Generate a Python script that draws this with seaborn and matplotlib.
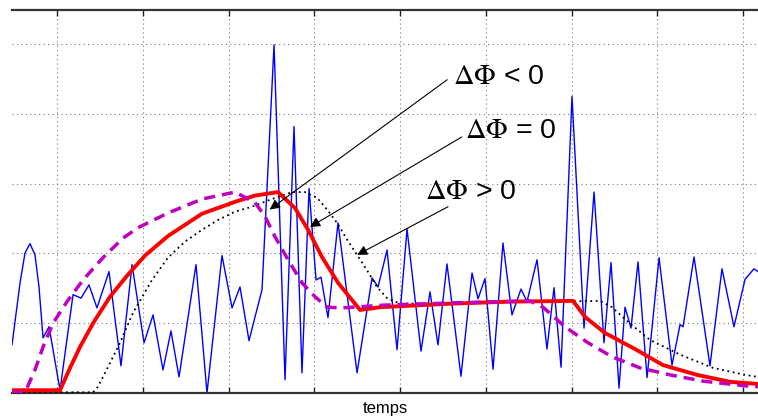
import numpy as np
import pandas as pd
import matplotlib
matplotlib.use("Agg")
import matplotlib.pyplot as plt
import seaborn as sns


signal_t = [4.75, 5.69, 6.27, 6.85, 7.43, 7.90, 8.37, 9.07, 10.35, 11.87,
            12.80, 13.73, 14.66, 16.06, 17.46, 18.75, 20.15, 21.20, 22.36, 23.29,
            24.23, 26.21, 27.49, 29.24, 30.41, 31.34, 32.39, 33.09, 33.91, 35.31,
            36.59, 37.64, 38.57, 39.39, 40.21, 40.79, 41.60, 42.77, 44.99, 46.74,
            47.44, 48.49, 49.65, 50.82, 52.45, 53.50, 54.43, 55.48, 57.11, 58.40,
            59.10, 59.91, 60.85, 62.01, 63.06, 64.11, 64.81, 65.98, 67.14, 67.96,
            68.78, 70.06, 71.46, 72.63, 73.79, 74.61, 75.54, 76.24, 76.94, 77.76,
            78.81, 80.21, 81.72, 82.66, 83.01, 84.29, 86.15, 87.55, 88.95, 90.24,
            91.28, 91.75]
signal_v = [0.69, 1.58, 2.01, 2.14, 1.98, 1.52, 0.79, 0.95, 0.04, 1.41,
            1.36, 1.55, 1.22, 1.74, 0.39, 1.84, 0.72, 1.12, 0.33, 0.89,
            0.23, 1.84, 0.00, 1.97, 1.22, 1.52, 0.75, 1.09, 1.48, 4.99,
            0.19, 3.82, 0.29, 2.93, 1.62, 1.66, 1.08, 2.44, 0.29, 1.65,
            1.52, 2.05, 0.62, 2.35, 0.60, 1.45, 0.69, 1.85, 0.24, 1.72,
            1.35, 1.64, 0.34, 2.15, 1.12, 1.49, 1.31, 1.91, 0.63, 1.51,
            0.37, 4.25, 0.93, 2.88, 0.72, 1.87, 0.07, 1.23, 0.93, 1.88,
            0.22, 1.94, 0.40, 0.98, 0.95, 1.95, 0.39, 1.78, 0.95, 1.63,
            1.78, 1.74]

# reference response (red, dphi = 0)
ref_t = [4.75, 10.35, 11.52, 12.68, 14.20, 16.18, 18.16, 20.26, 22.94, 26.91,
         30.76, 33.09, 35.77, 37.76, 39.27, 40.90, 42.77, 45.34, 47.67, 55.83,
         62.83, 70.18, 71.58, 73.91, 77.41, 80.67, 84.64, 88.49, 91.75]
ref_v = [0.04, 0.04, 0.36, 0.66, 1.00, 1.38, 1.68, 1.97, 2.25, 2.57,
         2.74, 2.83, 2.88, 2.65, 2.34, 1.95, 1.58, 1.19, 1.23, 1.28,
         1.31, 1.32, 1.09, 0.86, 0.63, 0.40, 0.26, 0.16, 0.13]

# leading response (magenta dashed, dphi < 0)
lead_t = [4.75, 6.27, 7.43, 8.37, 9.53, 11.17, 13.03, 15.36, 17.70, 19.45,
          22.94, 26.91, 30.76, 33.09, 34.26, 35.42, 36.94, 38.57, 40.09, 41.49,
          43.24, 48.25, 55.83, 65.16, 66.68, 69.24, 71.92, 74.72, 77.99, 81.49,
          85.34, 90.47, 91.75]
lead_v = [0.01, 0.01, 0.33, 0.66, 1.00, 1.31, 1.62, 1.94, 2.22, 2.37,
          2.58, 2.78, 2.88, 2.73, 2.53, 2.24, 1.91, 1.58, 1.38, 1.23,
          1.22, 1.26, 1.29, 1.32, 1.23, 0.95, 0.72, 0.52, 0.36, 0.26,
          0.17, 0.10, 0.09]

# lagging response (black dotted, dphi > 0)
lag_t = [4.75, 14.20, 14.78, 16.18, 17.35, 18.86, 21.08, 22.94, 24.93, 26.91,
         28.78, 30.76, 32.74, 34.84, 37.41, 38.92, 40.32, 41.49, 42.65, 43.82,
         44.99, 46.15, 47.32, 48.49, 50.00, 55.83, 73.33, 74.72, 76.59, 79.16,
         82.66, 86.50, 90.24, 91.75]
lag_v = [0.01, 0.01, 0.09, 0.43, 0.72, 1.15, 1.62, 1.94, 2.17, 2.34,
         2.48, 2.60, 2.67, 2.77, 2.88, 2.88, 2.80, 2.63, 2.44, 2.20,
         1.98, 1.76, 1.52, 1.36, 1.28, 1.29, 1.32, 1.23, 1.02, 0.76,
         0.55, 0.36, 0.26, 0.23]

labels = [r"$\Delta\Phi$ < 0", r"$\Delta\Phi$ = 0", r"$\Delta\Phi$ > 0"]
label_pos = [(56.2, 4.53), (57.6, 3.75), (52.9, 2.88)]
arrow_tail = [(55.5, 4.49), (57.2, 3.67), (55.6, 2.67)]
arrow_tip = [(34.8, 2.63), (39.5, 2.38), (45.0, 1.98)]


sns.set_style("white")
plt.rcParams["font.family"] = ["Liberation Sans", "DejaVu Sans"]
plt.rcParams["mathtext.fontset"] = "stix"

fig = plt.figure(figsize=(7.58, 4.2), dpi=100)
ax = fig.add_axes([12 / 758, 27 / 420, 746 / 758, 383 / 420])

sns.lineplot(x=signal_t, y=signal_v, ax=ax, color="#0000ff", lw=1.0,
             estimator=None, sort=False, zorder=2)
sns.lineplot(x=lag_t, y=lag_v, ax=ax, color="black", lw=1.3,
             linestyle=(0, (1, 2)), estimator=None, sort=False, zorder=3)
sns.lineplot(x=ref_t, y=ref_v, ax=ax, color="#ff0000", lw=2.8,
             estimator=None, sort=False, zorder=4)
sns.lineplot(x=lead_t, y=lead_v, ax=ax, color="#bf00bf", lw=2.5,
             linestyle=(0, (3.2, 2.0)), estimator=None, sort=False, zorder=5)

for txt, (tx, ty), tail, tip in zip(labels, label_pos, arrow_tail, arrow_tip):
    ax.text(tx, ty, txt, fontsize=20.5, color="black", ha="left", va="center",
            zorder=6)
    ax.annotate("", xy=tip, xytext=tail,
                arrowprops=dict(arrowstyle="-|>", color="black", lw=0.8,
                                mutation_scale=15, shrinkA=0, shrinkB=0),
                zorder=6)

ax.set_xlim(4.75, 91.75)
ax.set_ylim(0, 5.49)
ax.set_xticks(np.arange(10, 91, 10))
ax.set_yticks(np.arange(0, 6, 1))
ax.set_xticklabels([])
ax.set_yticklabels([])
ax.grid(True, color="#777777", linestyle=(0, (1, 3)), lw=0.8)
ax.tick_params(axis="x", direction="in", top=True, bottom=True, length=4,
               width=1, color="#222222")
ax.tick_params(axis="y", length=0)

for side in ["left", "right"]:
    ax.spines[side].set_visible(False)
for side in ["top", "bottom"]:
    ax.spines[side].set_color("#333333")
    ax.spines[side].set_linewidth(1.6)

ax.set_xlabel("temps", fontsize=12, color="black", labelpad=2)

fig.savefig("out.png", dpi=100)
